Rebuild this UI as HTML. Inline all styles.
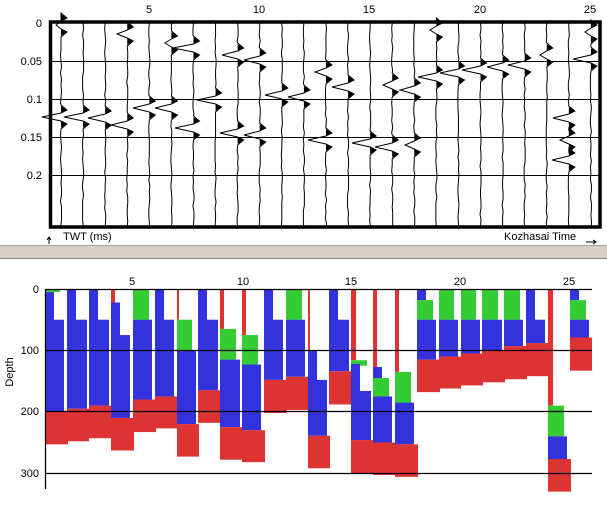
<!DOCTYPE html>
<html><head><meta charset="utf-8"><style>
html,body{margin:0;padding:0;background:#fff;width:607px;height:505px;overflow:hidden}
svg{display:block;font-family:"Liberation Sans",sans-serif}
</style></head><body>
<svg id="s" width="607" height="505" xmlns="http://www.w3.org/2000/svg">
<rect x="0" y="0" width="607" height="505" fill="#fff"/>
<rect x="0" y="245" width="607" height="14" fill="#d4d0c8"/>
<line x1="0" y1="245.5" x2="607" y2="245.5" stroke="#a0a0a0"/>
<line x1="0" y1="258.5" x2="607" y2="258.5" stroke="#808080"/>
<g id="bars"></g>
<g id="top"></g>
<g font-size="11" fill="#000">
<text x="149" y="13" text-anchor="middle">5</text>
<text x="259" y="13" text-anchor="middle">10</text>
<text x="369" y="13" text-anchor="middle">15</text>
<text x="480" y="13" text-anchor="middle">20</text>
<text x="590" y="13" text-anchor="middle">25</text>
<text x="42" y="27" text-anchor="end">0</text>
<text x="42" y="65" text-anchor="end">0.05</text>
<text x="42" y="103" text-anchor="end">0.1</text>
<text x="42" y="141" text-anchor="end">0.15</text>
<text x="42" y="179" text-anchor="end">0.2</text>
<text x="63" y="240">TWT (ms)</text>
<text x="504" y="240">Kozhasai Time</text>
<text x="132" y="285" text-anchor="middle">5</text>
<text x="243" y="285" text-anchor="middle">10</text>
<text x="351" y="285" text-anchor="middle">15</text>
<text x="460" y="285" text-anchor="middle">20</text>
<text x="569" y="285" text-anchor="middle">25</text>
<text x="39" y="293" text-anchor="end">0</text>
<text x="39" y="354" text-anchor="end">100</text>
<text x="39" y="415" text-anchor="end">200</text>
<text x="39" y="477" text-anchor="end">300</text>
<text transform="translate(13,372) rotate(-90)" text-anchor="middle">Depth</text>
</g>
<path d="M49 244 V238 M47 240 L49 237 L51 240" stroke="#000" fill="none"/>
<path d="M586 242 H596 M593 240 L596 242 L593 244" stroke="#000" fill="none"/>
</svg>
<script>
var NS="http://www.w3.org/2000/svg";
function el(p,t,a){var e=document.createElementNS(NS,t);for(var k in a)e.setAttribute(k,a[k]);p.appendChild(e);return e;}
var B=document.getElementById('bars');
function Y(d){return 289+0.614*d;}
var C={b:'#3333dd',g:'#33cc33',r:'#dd3333'};
var R=[
['g',45,60,0,5],['b',45,54,5,200],['b',54,64,50,200],['r',45,68,200,253],
['b',67,76,0,195],['b',76,87,50,195],['r',67,89,195,248],
['b',89,98,0,190],['b',98,109,50,190],['r',89,111,190,243],
['r',111,115,0,25],['b',111,120,22,210],['b',120,130,75,210],['r',111,134,210,263],
['g',133,149,0,50],['b',133,152,50,180],['r',133,156,180,233],
['b',155,164,0,175],['b',164,174,50,175],['r',155,177,175,227],
['r',177,179,0,50],['g',177,192,50,100],['b',177,196,100,220],['r',177,199,220,273],
['b',198,207,0,165],['b',207,218,50,165],['r',198,221,165,218],
['r',220,224,0,65],['g',220,236,65,115],['b',220,240,115,225],['r',220,243,225,278],
['r',242,246,0,75],['g',242,258,75,123],['b',242,261,123,230],['r',242,265,230,282],
['b',264,273,0,148],['b',273,283,50,148],['r',264,287,148,202],
['g',286,302,0,50],['b',286,305,50,143],['r',286,308,143,197],
['r',308,310,0,100],['b',308,317,100,239],['b',317,327,148,239],['r',308,330,239,292],
['b',329,338,0,134],['b',338,349,50,134],['r',329,352,134,188],
['r',351,356,0,116],['g',351,367,116,125],['b',351,360,122,246],['b',360,371,166,246],['r',351,373,246,300],
['r',373,377,0,127],['b',373,382,127,147],['g',373,389,145,175],['b',373,392,175,250],['r',373,395,250,303],
['r',395,399,0,135],['g',395,411,135,185],['b',395,414,185,253],['r',395,418,253,306],
['b',417,426,0,18],['g',417,433,18,50],['b',417,436,50,115],['r',417,440,115,168],
['g',439,454,0,50],['b',439,458,50,110],['r',439,461,110,162],
['g',461,476,0,50],['b',461,480,50,105],['r',461,483,105,157],
['g',482,498,0,50],['b',482,502,50,100],['r',482,505,100,152],
['g',504,520,0,50],['b',504,523,50,93],['r',504,527,93,147],
['b',526,535,0,88],['b',535,545,50,88],['r',526,548,88,142],
['r',548,553,0,190],['g',548,564,190,240],['b',548,567,240,278],['r',548,571,277,330],
['b',570,579,0,18],['g',570,586,18,50],['b',570,589,50,80],['r',570,592,79,133]];
R.forEach(function(r){var y0=Y(r[3]),y1=Y(r[4]);el(B,'rect',{x:r[1],y:y0,width:r[2]-r[1],height:y1-y0,fill:C[r[0]]});});
[289,350,411,473].forEach(function(y){el(B,'line',{x1:45,x2:592,y1:y+.5,y2:y+.5,stroke:'#000','stroke-width':1.3});});
el(B,'line',{x1:45.5,x2:45.5,y1:289,y2:489,stroke:'#000','stroke-width':1.3});
var T=document.getElementById('top');
[61,99,137,175].forEach(function(y){el(T,'line',{x1:49,x2:601,y1:y+.5,y2:y+.5,stroke:'#000'});});
var E={1:[[42,117],[56,25,1]],2:[[64,117]],3:[[88,118]],4:[[111,125],[117,34]],5:[[133,108]],6:[[155,108],[165,43,1]],
7:[[175,128],[173,48]],8:[[197,100]],9:[[222,55],[220,133]],10:[[244,60],[244,135]],11:[[265,95]],12:[[288,97]],
13:[[315,72],[308,140]],14:[[332,87]],15:[[352,143]],16:[[375,147],[383,85]],17:[[400,90],[405,145,1]],18:[[418,77],[430,30]],
19:[[440,73]],20:[[462,70]],21:[[487,67]],22:[[508,65]],23:[[540,55,1]],24:[[553,118],[552,160],[560,140,1]],25:[[573,59],[585,32]]};
for(var k=1;k<=25;k++){
 var x=61+(k-1)*22.08,ev=(E[k]||[]).slice().sort(function(a,b){return a[1]-b[1];});
 var d='M'+x+' 23',y=23,seed=k*7;
 ev.forEach(function(e){var ty=e[1];
  while(y+6<ty-12){y+=6;seed=(seed*37+11)%97;d+=' L'+(x+(seed%3-1)*0.5)+' '+y;}
  d+=' L'+x+' '+(ty-12)+' L'+(x+6)+' '+(ty-7)+' L'+x+' '+(ty-4)+' L'+e[0]+' '+ty+' L'+x+' '+(ty+4)+' L'+(x+6)+' '+(ty+7)+' L'+x+' '+(ty+12);
  y=ty+12;
  el(T,'path',{d:'M'+x+' '+(ty-11)+' L'+(x+6)+' '+(ty-7)+' L'+x+' '+(ty-4)+'Z M'+x+' '+(ty+4)+' L'+(x+6)+' '+(ty+7)+' L'+x+' '+(ty+11)+'Z',fill:'#000'});
 });
 while(y+6<228){y+=6;seed=(seed*37+11)%97;d+=' L'+(x+(seed%3-1)*0.5)+' '+y;}
 d+=' L'+x+' 228';
 el(T,'path',{d:d,stroke:'#000',fill:'none','stroke-width':1});
}
el(T,'rect',{x:50.5,y:22,width:549.5,height:205,fill:'none',stroke:'#000','stroke-width':3.5});
</script>
</body></html>
